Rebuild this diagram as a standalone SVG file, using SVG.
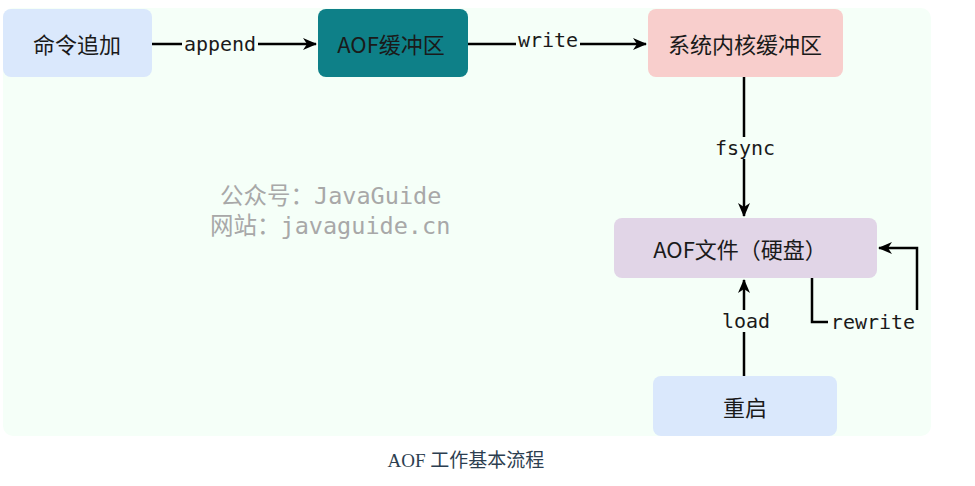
<svg xmlns="http://www.w3.org/2000/svg" width="975" height="486" viewBox="0 0 975 486">
<defs>
<marker id="ah" viewBox="0 0 14 12" refX="13" refY="6" markerWidth="14" markerHeight="12" markerUnits="userSpaceOnUse" orient="auto">
<path d="M0,0 L14,6 L0,12 L4,6 Z" fill="#000"/>
</marker>
</defs>
<style>
.node text{font-family:"Noto Sans CJK SC","DejaVu Sans Mono",sans-serif;font-size:22px;fill:#1a1a1a;text-anchor:middle;dominant-baseline:central}
.edge{fill:none;stroke:#000;stroke-width:2.5}
.bg{fill:#f5fff8}
.lbl{font-family:"DejaVu Sans Mono","Liberation Mono",monospace;font-size:20px;fill:#1a1a1a;text-anchor:middle;dominant-baseline:central}
.wm{font-family:"DejaVu Sans Mono","Noto Sans CJK SC",monospace;font-size:23.5px;fill:#a8a8a8;dominant-baseline:central}
</style>
<rect x="3" y="8" width="928" height="428" rx="10" fill="#f5fff8"/>
<g class="wm">
<text x="220" y="196">公众号：JavaGuide</text>
<text x="210" y="226">网站：javaguide.cn</text>
</g>
<g id="connectors">
<path class="edge" d="M152,44 H316" marker-end="url(#ah)"/>
<rect class="bg" x="182" y="33" width="76" height="22"/>
<text class="lbl" x="220" y="44">append</text>
<path class="edge" d="M468,44 H646" marker-end="url(#ah)"/>
<rect class="bg" x="516" y="31" width="64" height="22"/>
<text class="lbl" x="548" y="40">write</text>
<path class="edge" d="M744,77 V216" marker-end="url(#ah)"/>
<rect class="bg" x="713" y="137" width="62" height="22"/>
<text class="lbl" x="745" y="148">fsync</text>
<path class="edge" d="M744,376 V280" marker-end="url(#ah)"/>
<rect class="bg" x="719" y="310" width="52" height="22"/>
<text class="lbl" x="746" y="321">load</text>
<path class="edge" d="M812,278 V322 H828"/>
<path class="edge" d="M917,310 V248 H879" marker-end="url(#ah)"/>
<text class="lbl" x="873" y="322">rewrite</text>
</g>
<g id="n1" class="node"><rect x="3" y="9" width="149" height="68" rx="8" fill="#dae8fc"/><text x="77" y="43">命令追加</text></g>
<g id="n2" class="node"><rect x="318" y="9" width="150" height="68" rx="8" fill="#0e8088"/><text x="391" y="43">AOF缓冲区</text></g>
<g id="n3" class="node"><rect x="648" y="9" width="195" height="68" rx="8" fill="#f8cecc"/><text x="745" y="43">系统内核缓冲区</text></g>
<g id="n4" class="node"><rect x="614" y="218" width="263" height="60" rx="8" fill="#e1d5e7"/><text x="740" y="248">AOF文件（硬盘）</text></g>
<g id="n5" class="node"><rect x="653" y="376" width="184" height="60" rx="8" fill="#dae8fc"/><text x="745" y="406">重启</text></g>
<text x="466" y="460" font-family="Liberation Serif,Noto Sans CJK SC,serif" font-size="19" fill="#2c3e50" text-anchor="middle" dominant-baseline="central">AOF 工作基本流程</text>
</svg>
